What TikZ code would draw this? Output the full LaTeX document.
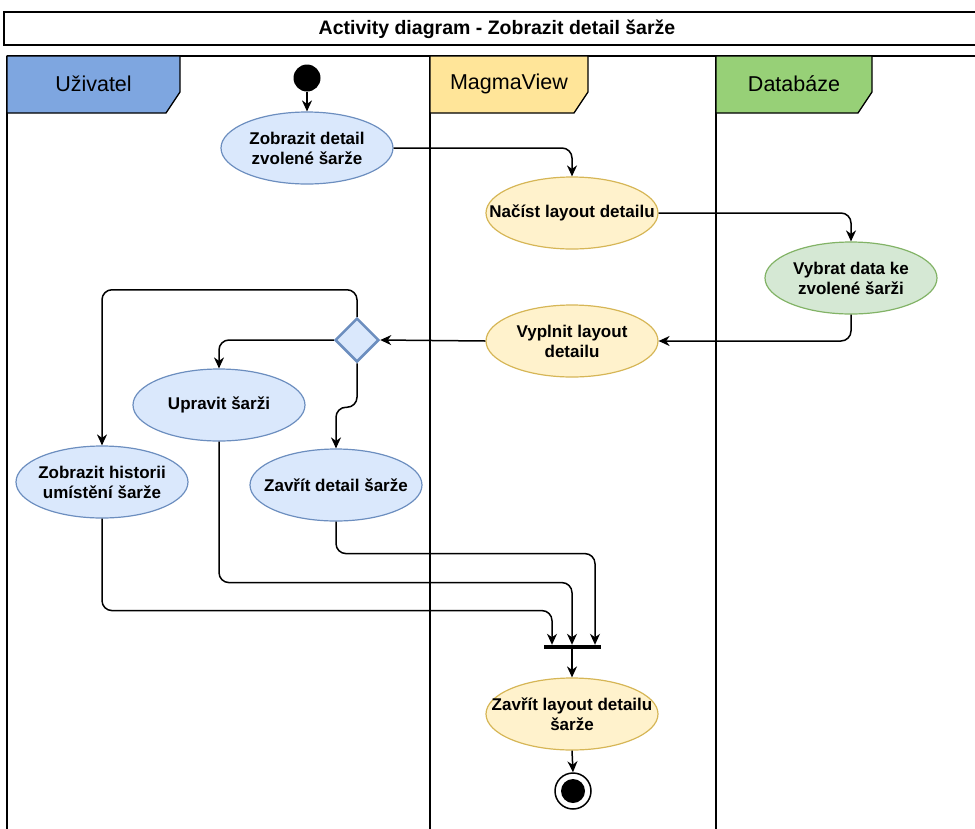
\documentclass[tikz,border=0pt]{standalone}
\usepackage{fontspec}
\setmainfont{Liberation Sans}
\usetikzlibrary{shapes.geometric,arrows.meta}

\definecolor{userHead}{HTML}{7EA6E0}
\definecolor{viewHead}{HTML}{FFE599}
\definecolor{dbHead}{HTML}{97D077}
\definecolor{userFill}{HTML}{DAE8FC}
\definecolor{userLine}{HTML}{6C8EBF}
\definecolor{viewFill}{HTML}{FFF2CC}
\definecolor{viewLine}{HTML}{D6B656}
\definecolor{dbFill}{HTML}{D5E8D4}
\definecolor{dbLine}{HTML}{82B366}

\tikzset{
  action/.style={ellipse, draw, line width=1.2pt, minimum width=172pt,
    minimum height=72pt, inner xsep=-45pt, inner ysep=0pt, align=center,
    font=\fontsize{17}{20}\selectfont\bfseries},
  useract/.style={action, fill=userFill, draw=userLine},
  viewact/.style={action, fill=viewFill, draw=viewLine},
  dbact/.style={action, fill=dbFill, draw=dbLine},
  flow/.style={line width=1.5pt, rounded corners=10pt,
    -{Stealth[length=11pt,width=10pt,inset=3.5pt]}},
  lane/.style={line width=1.6pt},
  lanehead/.style={draw, line width=1.3pt},
  headtext/.style={font=\fontsize{21.5}{24}\selectfont},
}

\begin{document}
\begin{tikzpicture}[x=1pt,y=-1pt]
  \useasboundingbox (0,0) rectangle (975,828);
  \clip (0,0) rectangle (975,828);

  % title bar
  \draw[line width=1.5pt] (4,12) rectangle (990,45);
  \node[font=\fontsize{19.5}{22}\selectfont\bfseries] (title) at (497,29)
    {Activity diagram - Zobrazit detail šarže};

  % swimlane borders
  \draw[lane] (7,56) -- (990,56);
  \draw[lane] (7,56) -- (7,830);
  \draw[lane] (430,56) -- (430,830);
  \draw[lane] (716,56) -- (716,830);

  % lane headers
  \filldraw[lanehead, fill=userHead] (7,56) -- (180,56) -- (180,92) -- (166,113) -- (7,113) -- cycle;
  \filldraw[lanehead, fill=viewHead] (430,56) -- (588,56) -- (588,92) -- (574,113) -- (430,113) -- cycle;
  \filldraw[lanehead, fill=dbHead] (716,56) -- (872,56) -- (872,92) -- (858,113) -- (716,113) -- cycle;
  \node[headtext] (hUser) at (93.5,84) {Uživatel};
  \node[headtext] (hView) at (509,84) {MagmaView};
  \node[headtext] (hDb) at (794,84) {Databáze};

  % activity nodes
  \node[circle, fill=black, minimum size=27pt, inner sep=0pt] (start) at (307,78) {};
  \node[useract] (a1) at (307,148) {Zobrazit detail\\zvolené šarže};
  \node[viewact] (a2) at (572,213) {Načíst layout detailu};
  \node[dbact]   (a3) at (851,278) {Vybrat data ke\\zvolené šarži};
  \node[viewact] (a4) at (572,341) {Vyplnit layout\\detailu};
  \node[diamond, draw=userLine, fill=userFill, line width=2.5pt,
        minimum size=44pt, inner sep=0pt] (dec) at (357,340) {};
  \node[useract] (upr) at (219,405) {Upravit šarži};
  \node[useract] (hist) at (102,482) {Zobrazit historii\\umístění šarže};
  \node[useract] (zav) at (336,485) {Zavřít detail šarže};
  \node[fill=black, minimum width=57pt, minimum height=4pt, inner sep=0pt] (bar) at (572,647) {};
  \node[viewact] (a8) at (572,714) {Zavřít layout detailu\\šarže};
  \node[circle, draw, line width=1.5pt, fill=white, minimum size=36pt, inner sep=0pt,
        path picture={\fill[black] (path picture bounding box.center) circle (12pt);}]
        (fin) at (573,791) {};

  % control flow
  \draw[flow] (start) -- (a1);
  \draw[flow] (a1.east) -| (a2.north);
  \draw[flow] (a2.east) -| (a3.north);
  \draw[flow] (a3.south) |- (a4.east);
  \draw[flow] (a4.west) -- (dec.east);
  \draw[flow] (dec.north) -- ++(0,-27) -| (hist.north);
  \draw[flow] (dec.west) -| (upr.north);
  \draw[flow] (dec.south) -- ++(0,44) -| (zav.north);
  \draw[flow] (hist.south) -- ++(0,92) -| ([xshift=-20pt]bar.north);
  \draw[flow] (upr.south) -- ++(0,141) -| (bar.north);
  \draw[flow] (zav.south) -- ++(0,32) -| ([xshift=23pt]bar.north);
  \draw[flow] (bar.south) -- (a8.north);
  \draw[flow] (a8.south) -- (fin.north);
\end{tikzpicture}
\end{document}
